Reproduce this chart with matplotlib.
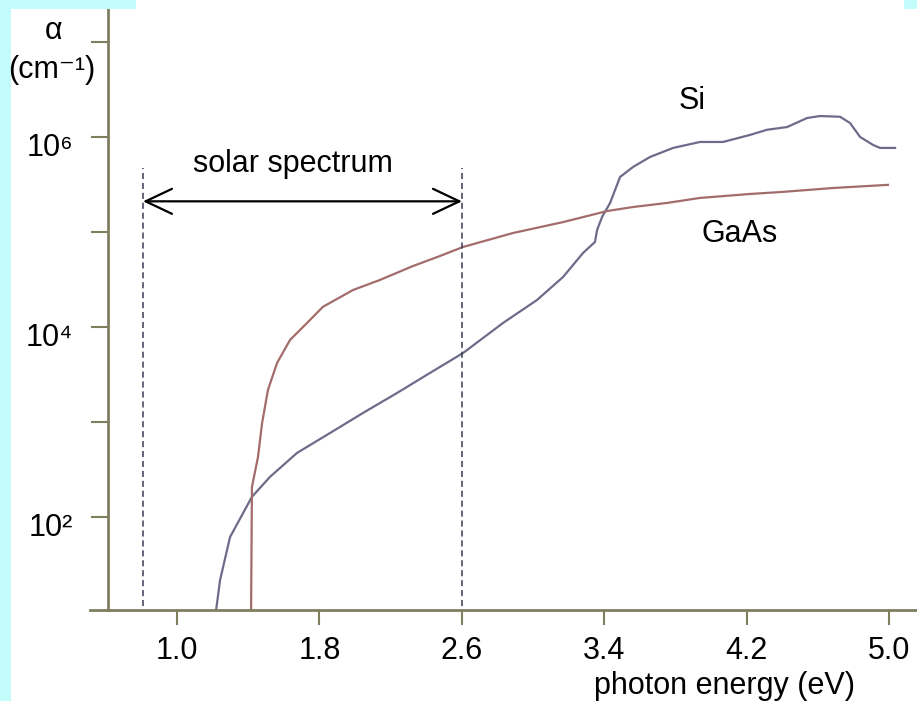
import matplotlib
matplotlib.use("Agg")
import matplotlib.pyplot as plt
from matplotlib.lines import Line2D
from matplotlib.patches import Rectangle
import matplotlib.transforms as mtransforms

plt.rcParams['font.family'] = ['Liberation Sans', 'DejaVu Sans']

# ---- data (photon energy in eV, absorption coefficient in cm^-1) ----
si_energy = [1.215, 1.242, 1.298, 1.421, 1.522, 1.674, 1.860, 2.045, 2.236, 2.421,
             2.607, 2.831, 3.022, 3.169, 3.281, 3.348, 3.360, 3.388, 3.433, 3.489,
             3.562, 3.657, 3.787, 3.938, 4.067, 4.219, 4.315, 4.427, 4.539, 4.612,
             4.725, 4.781, 4.837, 4.910, 4.949, 5.034]
si_alpha = [9.0, 21.7, 61.5, 163, 264, 472, 766, 1245, 2018, 3281,
            5321, 1.10e4, 1.92e4, 3.36e4, 6.01e4, 7.85e4, 1.05e5, 1.44e5, 2.02e5, 3.79e5,
            4.83e5, 6.15e5, 7.66e5, 8.85e5, 8.85e5, 1.05e6, 1.19e6, 1.27e6, 1.58e6, 1.66e6,
            1.63e6, 1.40e6, 1.00e6, 8.24e5, 7.66e5, 7.66e5]

gaas_energy = [1.416, 1.421, 1.455, 1.478, 1.511, 1.562, 1.635, 1.730, 1.820, 1.989,
               2.141, 2.326, 2.478, 2.607, 2.888, 3.169, 3.416, 3.562, 3.753, 3.938,
               4.219, 4.404, 4.685, 4.994]
gaas_alpha = [9.0, 207, 428, 975, 2173, 4178, 7300, 1.10e4, 1.63e4, 2.45e4,
              3.13e4, 4.38e4, 5.59e4, 6.95e4, 9.75e4, 1.27e5, 1.66e5, 1.83e5, 2.02e5, 2.28e5,
              2.51e5, 2.64e5, 2.90e5, 3.13e5]

solar_range = [0.809, 2.601]          # eV
solar_top = 4.7e5                     # top of dashed markers
solar_arrow_y = 2.1e5

x_ticks = [1.0, 1.8, 2.6, 3.4, 4.2, 5.0]
x_ticklabels = ['1.0', '1.8', '2.6', '3.4', '4.2', '5.0']
y_ticks = [1e2, 1e3, 1e4, 1e5, 1e6, 1e7]
y_ticklabels = ['10²', '', '10⁴', '', '10⁶', '']

W, H = 917, 701
fig = plt.figure(figsize=(W / 100, H / 100), dpi=100)
fig.patch.set_facecolor('white')

axis_col = '#7f7f5f'
si_col = '#6c6c8a'
gaas_col = '#a36c6c'
FS = 22

ax = fig.add_axes([108 / W, 1 - 610 / H, (917 - 108) / W, (610 - 9) / H])
ax.set_yscale('log')
ax.set_xlim(0.6124, 5.157)
ax.set_ylim(10.5, 2.22e7)

ax.plot(si_energy, si_alpha, color=si_col, lw=1.6, solid_joinstyle='round')
ax.plot(gaas_energy, gaas_alpha, color=gaas_col, lw=1.6, solid_joinstyle='round')

for xv in solar_range:
    ax.plot([xv, xv], [9, solar_top], color='#3a3a55', lw=1.1, ls=(0, (4, 2.5)))

ax.annotate('', xy=(solar_range[0], solar_arrow_y), xytext=(solar_range[1], solar_arrow_y),
            arrowprops=dict(arrowstyle='<->,head_length=1.9,head_width=0.9',
                            color='black', lw=1.6, mutation_scale=10,
                            shrinkA=0, shrinkB=0))

for s in ['top', 'right']:
    ax.spines[s].set_visible(False)
for s in ['left', 'bottom']:
    ax.spines[s].set_color(axis_col)
    ax.spines[s].set_linewidth(2)

ax.set_xticks(x_ticks)
ax.set_xticklabels(x_ticklabels)
ax.set_yticks(y_ticks)
ax.set_yticklabels(y_ticklabels)
ax.minorticks_off()
ax.tick_params(axis='x', direction='out', length=10.5, width=1.5, color=axis_col,
               labelsize=FS, pad=8)
ax.tick_params(axis='y', direction='out', length=12, width=1.5, color=axis_col,
               labelsize=FS, pad=13)
off = mtransforms.ScaledTranslation(0, -8 / 100, fig.dpi_scale_trans)
for lab in ax.get_yticklabels():
    lab.set_transform(lab.get_transform() + off)

# extend x axis line to the left of the y axis
fig.add_artist(Line2D([90 / W, 108 / W], [1 - 610 / H, 1 - 610 / H], color=axis_col, lw=2))

def figtext(px, py, s, **kw):
    fig.text(px / W, 1 - py / H, s, fontsize=FS, **kw)

figtext(293, 172, 'solar spectrum', ha='center', va='baseline')
figtext(54, 31, 'α', ha='center', va='center')
figtext(52, 70, '(cm⁻¹)', ha='center', va='center')
figtext(692, 101, 'Si', ha='center', va='center')
figtext(740, 234, 'GaAs', ha='center', va='center')
figtext(725, 686, 'photon energy (eV)', ha='center', va='center')

# light cyan page border
cyan = '#c4fcfc'
fig.add_artist(Rectangle((0, 0), 11 / W, 1, transform=fig.transFigure, color=cyan, lw=0))
fig.add_artist(Rectangle((0, 1 - 9 / H), 136 / W, 9 / H, transform=fig.transFigure, color=cyan, lw=0))
fig.add_artist(Rectangle((904 / W, 1 - 9 / H), 13 / W, 9 / H, transform=fig.transFigure, color=cyan, lw=0))

fig.savefig('out.png', dpi=100)
